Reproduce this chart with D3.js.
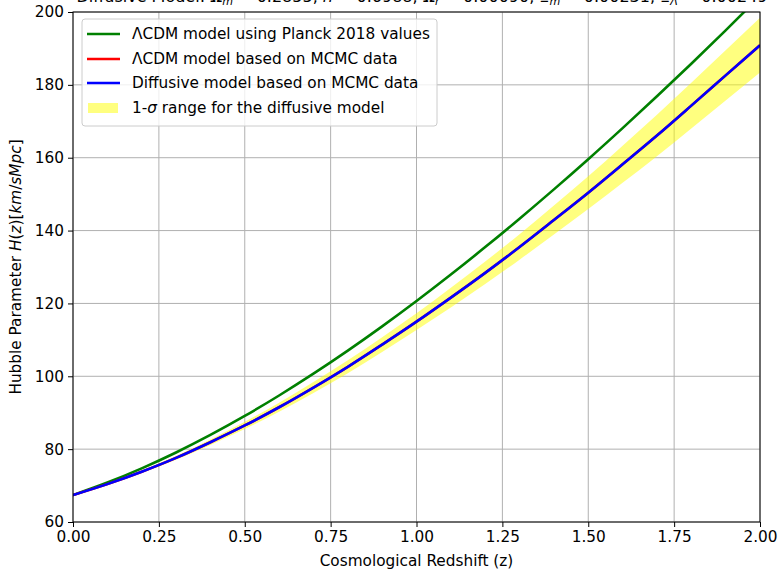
<!DOCTYPE html>
<html><head><meta charset="utf-8">
<script src="https://cdn.jsdelivr.net/npm/d3@7"></script>
<style>body{margin:0;background:#fff}svg{display:block}text{font-family:"DejaVu Sans",sans-serif;fill:#000}</style>
</head><body><svg id="c" width="779" height="570"></svg>
<script>
const redshift = [0,0.1,0.2,0.3,0.4,0.5,0.6,0.7,0.8,0.9,1.0,1.1,1.2,1.3,1.4,1.5,1.6,1.7,1.8,1.9,2.0];
const planckLCDM = [67.4,70.83,74.73,79.09,83.90,89.11,94.73,100.71,107.04,113.70,120.66,127.92,135.46,143.26,151.31,159.59,168.12,176.86,185.81,194.97,204.33];
const mcmcLCDM = [67.4,70.4,73.8,77.6,81.9,86.5,91.5,96.9,102.6,108.7,115.0,121.6,128.4,135.5,142.9,150.4,158.2,166.1,174.3,182.6,190.9];
const diffusive = [67.4,70.4,73.8,77.6,81.9,86.5,91.5,96.9,102.6,108.7,115.0,121.6,128.4,135.5,142.9,150.4,158.2,166.1,174.3,182.6,190.9];
const sigmaLow = [67.4,70.25,73.5,77.1,81.15,85.5,90.25,95.4,100.8,106.65,112.7,118.9,125.3,132.0,138.9,145.9,153.1,160.4,168.0,175.7,183.4];
const sigmaHigh = [67.4,70.55,74.1,78.1,82.65,87.5,92.75,98.4,104.4,110.75,117.3,124.3,131.5,139.0,146.9,154.9,163.3,171.8,180.6,189.5,198.4];
const xTicks = [0,0.25,0.5,0.75,1.0,1.25,1.5,1.75,2.0];
const yTicks = [60,80,100,120,140,160,180,200];
const legendLabels = ["ΛCDM model using Planck 2018 values","ΛCDM model based on MCMC data","Diffusive model based on MCMC data","1-σ range for the diffusive model"];

const FS = "15.3px";
const svg = d3.select("#c");
const L=73,R=760,T=12,B=522;
const x = d3.scaleLinear().domain([0,2]).range([L,R]);
const y = d3.scaleLinear().domain([60,200]).range([B,T]);

const defs = svg.append("defs");
defs.append("clipPath").attr("id","clip").append("rect").attr("x",L).attr("y",T).attr("width",R-L).attr("height",B-T);

// title (cut at top in the reference)
const title = svg.append("text").attr("x",422).attr("y",2).attr("text-anchor","middle").style("font-size","16px");
const tparts = [["Diffusive Model: ",null],["Ω","m"],[" = 0.2855, ",null],["h",null,true],[" = 0.6988, ",null],["Ω","r"],[" = 0.00090, ",null],["Ξ","m"],[" = 0.00231, ",null],["Ξ","Λ"],[" = 0.00249",null]];
let shift = 0;
tparts.forEach(p=>{
  const t = title.append("tspan").text(p[0]).attr("dy", -shift);
  shift = 0;
  if(p[2]) t.style("font-style","italic");
  if(p[1]){ title.append("tspan").text(p[1]).style("font-size","11px").style("font-style","italic").attr("dy",3); shift = 3; }
});

// grid
const g = svg.append("g");
g.selectAll(".gx").data(xTicks).enter().append("line").attr("x1",d=>x(d)).attr("x2",d=>x(d)).attr("y1",T).attr("y2",B).attr("stroke","#b0b0b0").attr("stroke-width",1);
g.selectAll(".gy").data(yTicks).enter().append("line").attr("y1",d=>y(d)).attr("y2",d=>y(d)).attr("x1",L).attr("x2",R).attr("stroke","#b0b0b0").attr("stroke-width",1);

const plot = svg.append("g").attr("clip-path","url(#clip)");
const area = d3.area().x((d,i)=>x(redshift[i])).y0((d,i)=>y(sigmaLow[i])).y1((d,i)=>y(sigmaHigh[i])).curve(d3.curveMonotoneX);
plot.append("path").datum(redshift).attr("d",area).attr("fill","#ffff00").attr("fill-opacity",0.5);
const line = arr => d3.line().x((d,i)=>x(redshift[i])).y((d,i)=>y(arr[i])).curve(d3.curveMonotoneX)(redshift);
plot.append("path").attr("d",line(planckLCDM)).attr("fill","none").attr("stroke","green").attr("stroke-width",2.6);
plot.append("path").attr("d",line(mcmcLCDM)).attr("fill","none").attr("stroke","red").attr("stroke-width",2.6);
plot.append("path").attr("d",line(diffusive)).attr("fill","none").attr("stroke","blue").attr("stroke-width",2.6);

// axes
const xa = svg.append("g").attr("transform",`translate(0,${B})`).call(d3.axisBottom(x).tickValues(xTicks).tickFormat(d3.format(".2f")).tickSize(5).tickPadding(4));
const ya = svg.append("g").attr("transform",`translate(${L},0)`).call(d3.axisLeft(y).tickValues(yTicks).tickFormat(d3.format("d")).tickSize(5).tickPadding(4));
[xa,ya].forEach(a=>{a.select(".domain").remove();a.selectAll("text").style("font-size",FS).style("font-family","DejaVu Sans");a.selectAll("line").attr("stroke","#000").attr("stroke-width",1);});
svg.append("rect").attr("x",L).attr("y",T).attr("width",R-L).attr("height",B-T).attr("fill","none").attr("stroke","#000").attr("stroke-width",1);

svg.append("text").attr("x",(L+R)/2).attr("y",566).attr("text-anchor","middle").style("font-size",FS).text("Cosmological Redshift (z)");
const yl = svg.append("text").attr("transform",`translate(21,${(T+B)/2}) rotate(-90)`).attr("text-anchor","middle").style("font-size",FS);
yl.append("tspan").text("Hubble Parameter ");
yl.append("tspan").text("H").style("font-style","italic");
yl.append("tspan").text("(");
yl.append("tspan").text("z").style("font-style","italic");
yl.append("tspan").text(")[");
yl.append("tspan").text("km").style("font-style","italic");
yl.append("tspan").text("/");
yl.append("tspan").text("sMpc").style("font-style","italic");
yl.append("tspan").text("]");

// legend
const lg = svg.append("g");
lg.append("rect").attr("x",82).attr("y",19).attr("width",355).attr("height",107).attr("rx",3).attr("fill","#fff").attr("fill-opacity",0.8).attr("stroke","#cccccc").attr("stroke-width",1);
const colors = ["green","red","blue"];
const rowsY = [34,59,83,108];
legendLabels.forEach((lab,i)=>{
  if(i<3) lg.append("line").attr("x1",87).attr("x2",120).attr("y1",rowsY[i]).attr("y2",rowsY[i]).attr("stroke",colors[i]).attr("stroke-width",2.6);
  else lg.append("rect").attr("x",88).attr("y",rowsY[i]-5).attr("width",30).attr("height",10).attr("fill","#ffff00").attr("fill-opacity",0.5);
  const t = lg.append("text").attr("x",132).attr("y",rowsY[i]+5).style("font-size",FS);
  if(i===3){ t.append("tspan").text("1-"); t.append("tspan").text("σ").style("font-style","italic"); t.append("tspan").text(" range for the diffusive model"); }
  else t.text(lab);
});
</script></body></html>
